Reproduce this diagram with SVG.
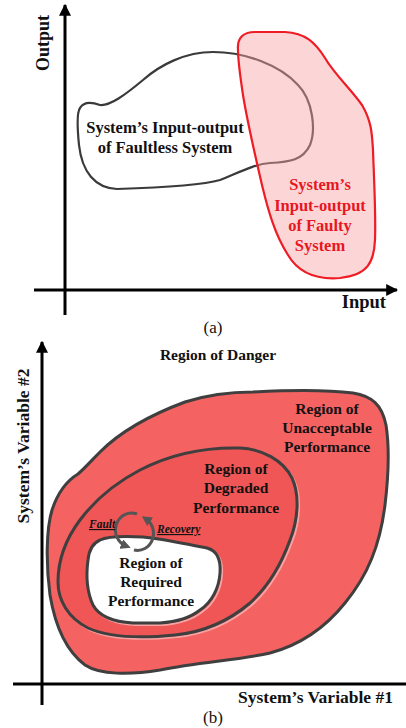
<svg xmlns="http://www.w3.org/2000/svg" width="406" height="728" viewBox="0 0 406 728">
<defs>
<style>
.t{font-family:"Liberation Serif","Times New Roman",serif;font-weight:bold;fill:#111;}
.ax{stroke:#000;stroke-width:3;fill:none;}
.reg{stroke:#3f3f3f;stroke-width:3;}
.red{fill:#e8161f;}
.lbl{font-family:"Liberation Serif","Times New Roman",serif;font-weight:bold;font-style:italic;font-size:11.5px;text-decoration:underline;fill:#111;}
.cyc{stroke:#555;stroke-width:3;fill:none;}
</style>
<marker id="ah" viewBox="0 0 10 10" refX="9" refY="5" markerWidth="4" markerHeight="4" markerUnits="strokeWidth" orient="auto">
<path d="M0,0 L10,5 L0,10 Z" fill="#000"/>
</marker>
<marker id="ca" viewBox="0 0 10 10" refX="5" refY="5" markerWidth="3.4" markerHeight="3.4" markerUnits="strokeWidth" orient="auto">
<path d="M0,0 L10,5 L0,10 Z" fill="#555"/>
</marker>
</defs>
<rect width="406" height="728" fill="#fff"/>

<g id="panel-a">
<g id="faultless">
<path d="M 80,108 C 84,101 92,102 100,105 C 110,106 125,95 143,80 C 160,65 185,52 213,52 C 245,52 280,65 298,85 C 313,100 316,130 310,145 C 303,160 290,162 270,163 C 255,164 240,172 220,180 C 200,186 150,188 117,189 C 95,188 82,172 79,145 C 77,125 77,112 80,108 Z" fill="none" stroke="#3a3a3a" stroke-width="2.2"/>
</g>
<g id="faulty">
<path d="M 238,50 C 237,38 243,32 255,32 L 285,32 C 305,33 315,42 325,58 C 335,75 350,88 362,105 C 372,122 372,135 373,150 C 374,180 376,215 375,240 C 374,262 368,275 340,278 C 315,280 298,272 288,255 C 275,235 268,210 262,185 C 255,155 247,120 243,95 C 240,75 238,60 238,50 Z" fill="#f9a5a7" fill-opacity="0.45" stroke="#ee1c24" stroke-width="2.2"/>
</g>
<g id="axes-a">
<line class="ax" x1="65" y1="315" x2="65" y2="5" marker-end="url(#ah)"/>
<line class="ax" x1="34" y1="290" x2="397" y2="290" marker-end="url(#ah)"/>
</g>
<text class="t" font-size="18" transform="translate(49,43) rotate(-90)" text-anchor="middle">Output</text>
<text class="t" font-size="18.5" x="386" y="308" text-anchor="end">Input</text>
<text class="t" font-size="16.5" x="165" y="133" text-anchor="middle">System’s Input-output</text>
<text class="t" font-size="16.5" x="165" y="153" text-anchor="middle">of Faultless System</text>
<g class="t red" font-size="16.5" text-anchor="middle">
<text class="t red" x="320" y="190">System’s</text>
<text class="t red" x="320" y="211">Input-output</text>
<text class="t red" x="320" y="231">of Faulty</text>
<text class="t red" x="320" y="251">System</text>
</g>
<text x="213" y="333" font-family="'Liberation Serif','Times New Roman',serif" font-size="17" text-anchor="middle" fill="#111">(a)</text>
</g>

<g id="panel-b">
<g id="unacceptable">
<path class="reg" d="M 253,392 C 290,390 330,390 353,393 C 372,396 382,405 386,425 C 390,450 388,480 385,505 C 380,545 368,575 345,603 C 325,628 300,645 270,653 C 240,660 200,662 160,670 C 130,675 100,675 85,665 C 65,650 55,625 50,595 C 46,565 46,530 52,510 C 58,492 68,480 78,474 C 85,468 90,462 100,452 C 120,432 150,415 185,402 C 210,394 230,392 253,392 Z" fill="#f56262"/>
</g>
<g id="degraded">
<path d="M 240,448 C 262,449 283,460 292,478 C 300,495 298,520 290,540 C 282,562 270,585 250,603 C 230,620 205,632 175,635 C 145,638 110,638 88,628 C 68,618 58,600 58,582 C 58,560 65,540 80,520 C 95,500 115,483 140,470 C 165,457 200,447 240,448 Z" transform="translate(2,2)" fill="none" stroke="#f6a3a3" stroke-width="2"/>
<path class="reg" d="M 240,448 C 262,449 283,460 292,478 C 300,495 298,520 290,540 C 282,562 270,585 250,603 C 230,620 205,632 175,635 C 145,638 110,638 88,628 C 68,618 58,600 58,582 C 58,560 65,540 80,520 C 95,500 115,483 140,470 C 165,457 200,447 240,448 Z" fill="#f05656"/>
</g>
<g id="required">
<path d="M 100,540 C 108,536 125,536 143,537 C 165,539 185,544 207,548 C 218,551 221,560 220,573 C 219,588 212,602 200,610 C 190,618 175,622 160,623 L 133,623 C 115,622 100,618 93,605 C 87,592 86,575 88,560 C 89,550 93,543 100,540 Z" transform="translate(2,2)" fill="none" stroke="#f6a3a3" stroke-width="2"/>
<path class="reg" d="M 100,540 C 108,536 125,536 143,537 C 165,539 185,544 207,548 C 218,551 221,560 220,573 C 219,588 212,602 200,610 C 190,618 175,622 160,623 L 133,623 C 115,622 100,618 93,605 C 87,592 86,575 88,560 C 89,550 93,543 100,540 Z" fill="#fff"/>
</g>
<g id="connectors">
<path class="cyc" d="M 137,514 A 16,17 0 0 0 126,546" marker-end="url(#ca)"/>
<path class="cyc" d="M 134,550 A 16,17 0 0 0 146,519" marker-end="url(#ca)"/>
</g>
<g id="axes-b">
<line class="ax" x1="42" y1="705" x2="42" y2="342" marker-end="url(#ah)"/>
<line class="ax" x1="13" y1="684" x2="406" y2="684"/>
</g>
<text class="t" font-size="15.5" x="218" y="360" text-anchor="middle">Region of Danger</text>
<text class="t" font-size="17.5" transform="translate(29,446) rotate(-90)" text-anchor="middle">System’s Variable #2</text>
<text class="t" font-size="17.5" x="393" y="703" text-anchor="end">System’s Variable #1</text>
<g class="t" font-size="15.5" text-anchor="middle">
<text x="327" y="414">Region of</text>
<text x="327" y="433">Unacceptable</text>
<text x="327" y="452">Performance</text>
<text x="236" y="474">Region of</text>
<text x="236" y="493">Degraded</text>
<text x="236" y="513">Performance</text>
<text x="151" y="568">Region of</text>
<text x="151" y="587">Required</text>
<text x="151" y="606">Performance</text>
</g>
<text class="lbl" x="89" y="528">Fault</text>
<text class="lbl" x="157" y="533">Recovery</text>
<text x="213" y="723" font-family="'Liberation Serif','Times New Roman',serif" font-size="17" text-anchor="middle" fill="#111">(b)</text>
</g>
</svg>
